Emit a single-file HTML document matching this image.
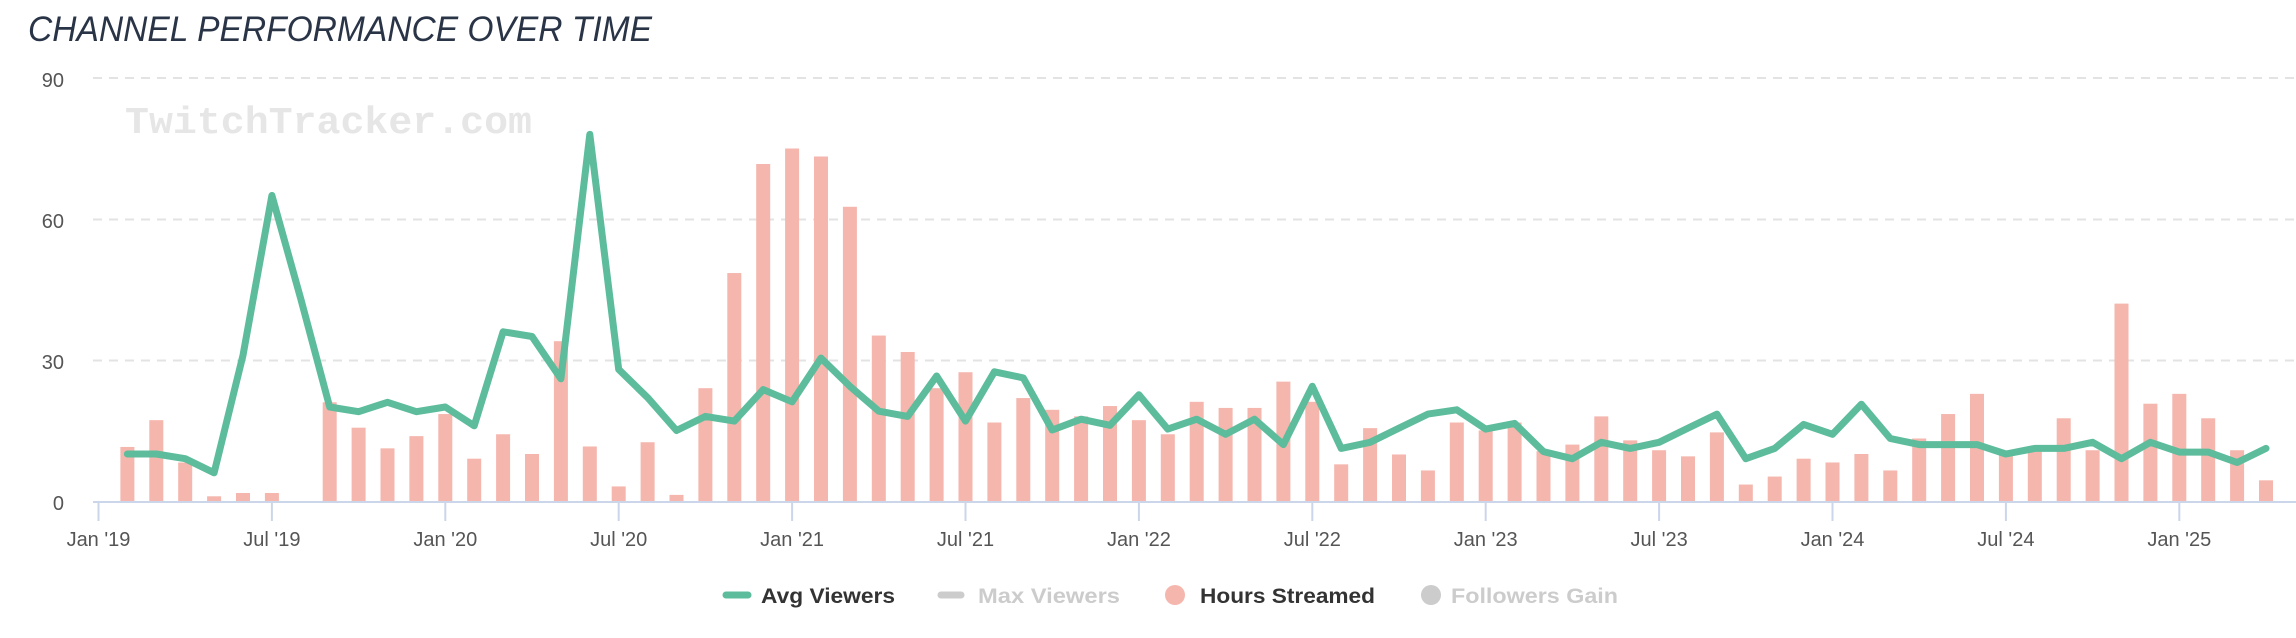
<!DOCTYPE html>
<html><head><meta charset="utf-8"><style>
html,body{margin:0;padding:0;background:#fff;}
svg{display:block;}
</style></head><body>
<svg id="c" width="2296" height="638" xmlns="http://www.w3.org/2000/svg" font-family="'Liberation Sans',sans-serif">
<text x="28" y="41" font-size="35" font-style="italic" fill="#2a3447" textLength="624" lengthAdjust="spacingAndGlyphs">CHANNEL PERFORMANCE OVER TIME</text>
<g stroke="#e3e3e3" stroke-width="2" stroke-dasharray="9,7">
<line x1="93" x2="2296" y1="78" y2="78"/>
<line x1="93" x2="2296" y1="219.5" y2="219.5"/>
<line x1="93" x2="2296" y1="360.5" y2="360.5"/>
</g>
<text x="125" y="133" font-family="'Liberation Mono',monospace" font-weight="bold" font-size="38" fill="#e6e6e6" textLength="407" lengthAdjust="spacingAndGlyphs">TwitchTracker.com</text>
<g font-size="20" fill="#555" text-anchor="end">
<text x="64" y="87">90</text><text x="64" y="228">60</text><text x="64" y="369">30</text><text x="64" y="510">0</text>
</g>
<g id="bars" fill="#f4b6ad"></g>
<line x1="93" x2="2296" y1="502" y2="502" stroke="#ccd6eb" stroke-width="2"/>
<g id="ticks" stroke="#ccd6eb" stroke-width="2"></g>
<g id="xl" font-size="20" fill="#555" text-anchor="middle"></g>
<polyline id="ln" fill="none" stroke="#5cbc9b" stroke-width="7" stroke-linejoin="round" stroke-linecap="round"/>
<g font-size="21" font-weight="bold">
<line x1="726" x2="748" y1="595" y2="595" stroke="#5cbc9b" stroke-width="7" stroke-linecap="round"/>
<text x="761" y="603" fill="#333" textLength="134" lengthAdjust="spacingAndGlyphs">Avg Viewers</text>
<line x1="941" x2="961" y1="595" y2="595" stroke="#cccccc" stroke-width="7" stroke-linecap="round"/>
<text x="978" y="603" fill="#cccccc" textLength="142" lengthAdjust="spacingAndGlyphs">Max Viewers</text>
<circle cx="1175" cy="595" r="10" fill="#f4b6ad"/>
<text x="1200" y="603" fill="#333" textLength="175" lengthAdjust="spacingAndGlyphs">Hours Streamed</text>
<circle cx="1431" cy="595" r="10" fill="#cccccc"/>
<text x="1451" y="603" fill="#cccccc" textLength="167" lengthAdjust="spacingAndGlyphs">Followers Gain</text>
</g>
</svg>
<script>
var line=[10,10,9,6,31,65,43,20,19,21,19,20,16,36,35,26,78,28,22,15,18,17,23.7,21.1,30.4,24.4,19.1,18,26.6,17,27.5,26.2,15.1,17.4,16.1,22.6,15.3,17.4,14.2,17.4,12,24.4,11.2,12.5,15.5,18.5,19.4,15.3,16.5,10.5,9,12.5,11.2,12.5,15.5,18.5,9,11.2,16.3,14.2,20.6,13.3,12,12,12,10,11.2,11.2,12.5,9,12.5,10.4,10.4,8.2,11.2];
var bars=[11.5,17.2,8.2,1,1.7,1.7,0,21,15.6,11.2,13.8,18.5,9,14.2,10,34,11.6,3.1,12.5,1.3,24,48.5,71.7,75,73.3,62.6,35.2,31.7,24,27.4,16.7,21.9,19.4,18,20.2,17.2,14.2,21.1,19.8,19.8,25.4,21.1,7.8,15.5,9.9,6.5,16.7,15,16.7,10.6,12,18,12.9,10.8,9.5,14.6,3.5,5.2,9,8.2,10,6.5,13.3,18.5,22.8,10,10.5,17.6,10.8,42,20.7,22.8,17.6,10.8,4.4];
var X=function(i){return 98.5+28.9*i;},Y=function(v){return 501-4.7*v;};
var ns="http://www.w3.org/2000/svg",b=document.getElementById('bars');
bars.forEach(function(v,k){if(v<=0)return;var r=document.createElementNS(ns,'rect');var x=X(k+1);r.setAttribute('x',x-7);r.setAttribute('width',14);r.setAttribute('y',Y(v));r.setAttribute('height',501-Y(v));b.appendChild(r);});
document.getElementById('ln').setAttribute('points',line.map(function(v,k){return X(k+1).toFixed(1)+','+Y(v).toFixed(1);}).join(' '));
var labs=["Jan '19","Jul '19","Jan '20","Jul '20","Jan '21","Jul '21","Jan '22","Jul '22","Jan '23","Jul '23","Jan '24","Jul '24","Jan '25"];
var t=document.getElementById('ticks'),xl=document.getElementById('xl');
labs.forEach(function(s,k){var x=X(k*6);var l=document.createElementNS(ns,'line');l.setAttribute('x1',x);l.setAttribute('x2',x);l.setAttribute('y1',502);l.setAttribute('y2',521);t.appendChild(l);var tx=document.createElementNS(ns,'text');tx.setAttribute('x',x);tx.setAttribute('y',546);tx.textContent=s;xl.appendChild(tx);});
</script>
</body></html>
